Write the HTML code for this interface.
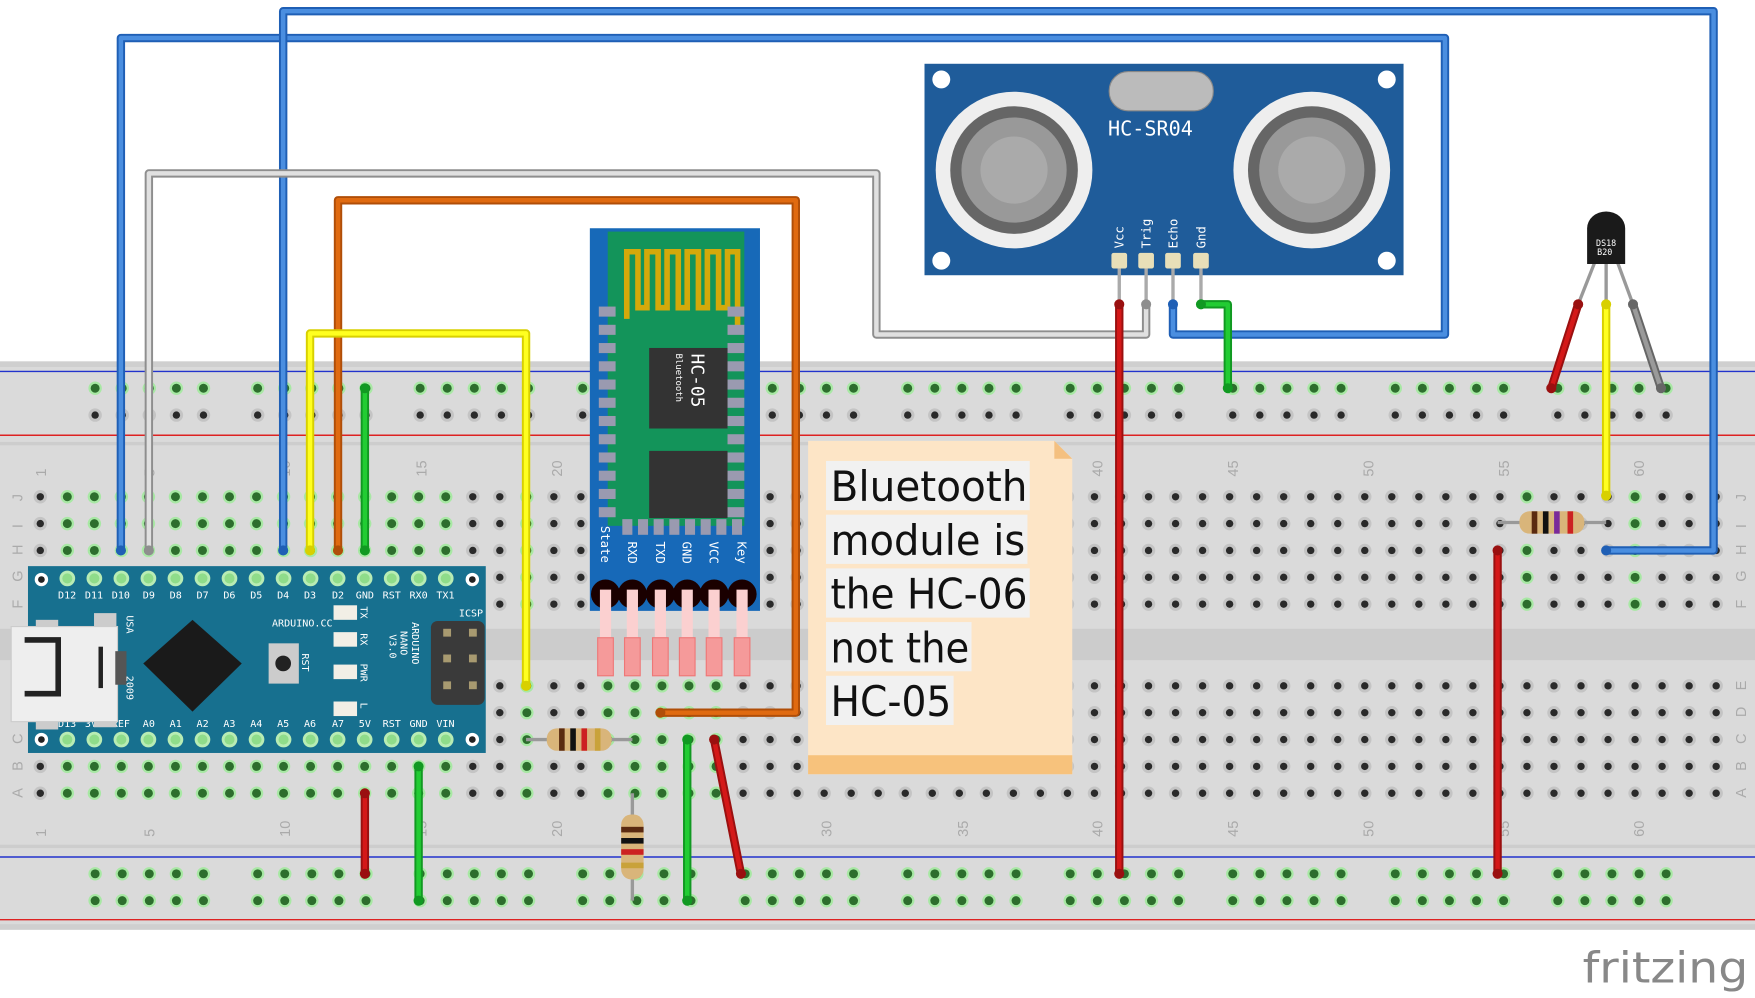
<!DOCTYPE html>
<html><head><meta charset="utf-8"><style>
html,body{margin:0;padding:0;background:#fff;width:1755px;height:998px;overflow:hidden}
svg{display:block}
.m{font-family:"DejaVu Sans Mono","Liberation Mono",monospace}
.s{font-family:"Liberation Sans",sans-serif}
.d{font-family:"DejaVu Sans","Liberation Sans",sans-serif}
</style></head><body>
<svg id="s" width="1755" height="998" viewBox="0 0 1568 892" preserveAspectRatio="none" xmlns="http://www.w3.org/2000/svg">
<rect x="0" y="0" width="1568" height="892" fill="#fff"/>
<!-- breadboard -->
<rect x="0" y="323" width="1568" height="508" fill="#dadada"/>
<rect x="0" y="323" width="1568" height="5" fill="#cfcfcf"/>
<rect x="0" y="395" width="1568" height="3" fill="#cdcdcd"/>
<rect x="0" y="562" width="1568" height="28" fill="#cccccc"/>
<rect x="0" y="755" width="1568" height="3" fill="#cdcdcd"/>
<rect x="0" y="826" width="1568" height="5" fill="#cfcfcf"/>
<line x1="0" y1="332" x2="1568" y2="332" stroke="#2233cc" stroke-width="1.3"/>
<line x1="0" y1="389" x2="1568" y2="389" stroke="#dd2222" stroke-width="1.3"/>
<line x1="0" y1="766" x2="1568" y2="766" stroke="#2233cc" stroke-width="1.3"/>
<line x1="0" y1="822" x2="1568" y2="822" stroke="#dd2222" stroke-width="1.3"/>
<g id="holes"></g>
<g fill="#aaa" font-size="13" class="s">
<text transform="translate(41,426) rotate(-90)">1</text>
<text transform="translate(138,426) rotate(-90)">5</text>
<text transform="translate(259,426) rotate(-90)">10</text>
<text transform="translate(381,426) rotate(-90)">15</text>
<text transform="translate(502,426) rotate(-90)">20</text>
<text transform="translate(743,426) rotate(-90)">30</text>
<text transform="translate(865,426) rotate(-90)">35</text>
<text transform="translate(985,426) rotate(-90)">40</text>
<text transform="translate(1106,426) rotate(-90)">45</text>
<text transform="translate(1227,426) rotate(-90)">50</text>
<text transform="translate(1348,426) rotate(-90)">55</text>
<text transform="translate(1469,426) rotate(-90)">60</text>
<text transform="translate(41,748) rotate(-90)">1</text>
<text transform="translate(138,748) rotate(-90)">5</text>
<text transform="translate(259,748) rotate(-90)">10</text>
<text transform="translate(381,748) rotate(-90)">15</text>
<text transform="translate(502,748) rotate(-90)">20</text>
<text transform="translate(743,748) rotate(-90)">30</text>
<text transform="translate(865,748) rotate(-90)">35</text>
<text transform="translate(985,748) rotate(-90)">40</text>
<text transform="translate(1106,748) rotate(-90)">45</text>
<text transform="translate(1227,748) rotate(-90)">50</text>
<text transform="translate(1348,748) rotate(-90)">55</text>
<text transform="translate(1469,748) rotate(-90)">60</text>
</g>
<g fill="#aaa" font-size="13" class="s">
<text transform="translate(20,448) rotate(-90)">J</text><text transform="translate(20,472) rotate(-90)">I</text><text transform="translate(20,496) rotate(-90)">H</text><text transform="translate(20,520) rotate(-90)">G</text><text transform="translate(20,544) rotate(-90)">F</text>
<text transform="translate(20,617) rotate(-90)">E</text><text transform="translate(20,641) rotate(-90)">D</text><text transform="translate(20,665) rotate(-90)">C</text><text transform="translate(20,689) rotate(-90)">B</text><text transform="translate(20,713) rotate(-90)">A</text>
<text transform="translate(1560,448) rotate(-90)">J</text><text transform="translate(1560,472) rotate(-90)">I</text><text transform="translate(1560,496) rotate(-90)">H</text><text transform="translate(1560,520) rotate(-90)">G</text><text transform="translate(1560,544) rotate(-90)">F</text>
<text transform="translate(1560,617) rotate(-90)">E</text><text transform="translate(1560,641) rotate(-90)">D</text><text transform="translate(1560,665) rotate(-90)">C</text><text transform="translate(1560,689) rotate(-90)">B</text><text transform="translate(1560,713) rotate(-90)">A</text>
</g>

<!-- Arduino Nano -->
<rect x="25" y="506" width="409" height="167" fill="#17708f"/>
<circle cx="37" cy="518" r="6" fill="#fff"/><circle cx="37" cy="518" r="3" fill="#222"/>
<circle cx="422" cy="518" r="6" fill="#fff"/><circle cx="422" cy="518" r="3" fill="#222"/>
<circle cx="37" cy="661" r="6" fill="#fff"/><circle cx="37" cy="661" r="3" fill="#222"/>
<circle cx="422" cy="661" r="6" fill="#fff"/><circle cx="422" cy="661" r="3" fill="#222"/>
<g id="apins"></g>
<g fill="#fff" font-size="9" class="m" text-anchor="middle">
<text x="60" y="535">D12</text><text x="84" y="535">D11</text><text x="108" y="535">D10</text><text x="133" y="535">D9</text><text x="157" y="535">D8</text><text x="181" y="535">D7</text><text x="205" y="535">D6</text><text x="229" y="535">D5</text><text x="253" y="535">D4</text><text x="277" y="535">D3</text><text x="302" y="535">D2</text><text x="326" y="535">GND</text><text x="350" y="535">RST</text><text x="374" y="535">RX0</text><text x="398" y="535">TX1</text>
<text x="60" y="650">D13</text><text x="84" y="650">3V3</text><text x="108" y="650">REF</text><text x="133" y="650">A0</text><text x="157" y="650">A1</text><text x="181" y="650">A2</text><text x="205" y="650">A3</text><text x="229" y="650">A4</text><text x="253" y="650">A5</text><text x="277" y="650">A6</text><text x="302" y="650">A7</text><text x="326" y="650">5V</text><text x="350" y="650">RST</text><text x="374" y="650">GND</text><text x="398" y="650">VIN</text>
</g>
<g fill="#fff" font-size="9" class="m">
<text x="243" y="560">ARDUINO.CC</text>
<text x="410" y="551">ICSP</text>
</g>
<rect x="32" y="554" width="20" height="98" fill="#ccc"/>
<rect x="84" y="548" width="20" height="30" fill="#ccc"/><rect x="84" y="620" width="20" height="30" fill="#ccc"/>
<rect x="10" y="560" width="95" height="85" fill="#eee" stroke="#ccc"/>
<path d="M22 572 L52 572 L52 620 L22 620" fill="none" stroke="#222" stroke-width="5"/>
<line x1="90" y1="578" x2="90" y2="615" stroke="#222" stroke-width="4"/>
<rect x="103" y="582" width="10" height="30" fill="#555"/>
<polygon points="172,554 216,593 172,636 128,593" fill="#1a1a1a"/>
<rect x="240" y="575" width="27" height="36" fill="#ccc"/><circle cx="253" cy="593" r="7" fill="#222"/>
<rect x="298" y="541" width="21" height="13" fill="#f2efe6"/>
<rect x="298" y="565" width="21" height="13" fill="#f2efe6"/>
<rect x="298" y="594" width="21" height="13" fill="#f2efe6"/>
<rect x="298" y="627" width="21" height="13" fill="#f2efe6"/>
<g fill="#fff" font-size="9" class="m">
<text transform="translate(322,542) rotate(90)">TX</text>
<text transform="translate(322,566) rotate(90)">RX</text>
<text transform="translate(322,593) rotate(90)">PWR</text>
<text transform="translate(322,628) rotate(90)">L</text>
<text transform="translate(270,584) rotate(90)">RST</text>
<text transform="translate(113,550) rotate(90)">USA</text>
<text transform="translate(113,604) rotate(90)">2009</text>
<text transform="translate(368,556) rotate(90)">ARDUINO</text>
<text transform="translate(358,564) rotate(90)">NANO</text>
<text transform="translate(348,567) rotate(90)">V3.0</text>
</g>
<rect x="385" y="555" width="48" height="75" rx="6" fill="#3a3a3a"/>
<g fill="#a89a70"><rect x="396" y="562" width="7" height="7"/><rect x="419" y="562" width="7" height="7"/><rect x="396" y="585" width="7" height="7"/><rect x="419" y="585" width="7" height="7"/><rect x="396" y="609" width="7" height="7"/><rect x="419" y="609" width="7" height="7"/></g>

<!-- Bluetooth module -->
<rect x="527" y="204" width="152" height="342" fill="#1769b8"/>
<rect x="543" y="207" width="122" height="263" fill="#13945a"/>
<path d="M560 285 V225 H570 V275 H578 V225 H588 V275 H596 V225 H606 V275 H614 V225 H624 V275 H632 V225 H642 V275 H650 V225 H659 V297" fill="none" stroke="#d4a90a" stroke-width="5"/>
<g id="btpads" fill="#9a9ab0"></g>
<rect x="580" y="311" width="70" height="72" fill="#333"/>
<rect x="580" y="403" width="70" height="60" fill="#333"/>
<text transform="translate(618,316) rotate(90)" fill="#fff" font-size="16" class="m">HC-05</text>
<text transform="translate(604,316) rotate(90)" fill="#fff" font-size="8" class="m">Bluetooth</text>
<g fill="#fff" font-size="11" class="m">
<text transform="translate(537,470) rotate(90)">State</text>
<text transform="translate(561,484) rotate(90)">RXD</text>
<text transform="translate(586,484) rotate(90)">TXD</text>
<text transform="translate(610,484) rotate(90)">GND</text>
<text transform="translate(634,484) rotate(90)">VCC</text>
<text transform="translate(659,484) rotate(90)">Key</text>
</g>
<g id="btpins"></g>

<!-- HC-SR04 -->
<rect x="826" y="57" width="428" height="189" fill="#1f5c9a"/>
<g fill="#fff"><circle cx="841" cy="71" r="8"/><circle cx="1239" cy="71" r="8"/><circle cx="841" cy="233" r="8"/><circle cx="1239" cy="233" r="8"/></g>
<rect x="991" y="64" width="93" height="35" rx="17" fill="#bbb" stroke="#888"/>
<circle cx="906" cy="152" r="70" fill="#eee"/><circle cx="906" cy="152" r="57" fill="#666"/><circle cx="906" cy="152" r="47" fill="#999"/><circle cx="906" cy="152" r="30" fill="#aaa"/>
<circle cx="1172" cy="152" r="70" fill="#eee"/><circle cx="1172" cy="152" r="57" fill="#666"/><circle cx="1172" cy="152" r="47" fill="#999"/><circle cx="1172" cy="152" r="30" fill="#aaa"/>
<text x="990" y="121" fill="#fff" font-size="18" class="m">HC-SR04</text>
<g fill="#fff" font-size="11" class="m">
<text transform="translate(1004,222) rotate(-90)">Vcc</text>
<text transform="translate(1028,222) rotate(-90)">Trig</text>
<text transform="translate(1052,222) rotate(-90)">Echo</text>
<text transform="translate(1077,222) rotate(-90)">Gnd</text>
</g>
<g fill="#e8dfb8"><rect x="993" y="226" width="14" height="14" rx="2"/><rect x="1017" y="226" width="14" height="14" rx="2"/><rect x="1041" y="226" width="14" height="14" rx="2"/><rect x="1066" y="226" width="14" height="14" rx="2"/></g>
<g stroke="#aaa" stroke-width="3"><line x1="1000" y1="240" x2="1000" y2="272"/><line x1="1024" y1="240" x2="1024" y2="272"/><line x1="1048" y1="240" x2="1048" y2="272"/><line x1="1073" y1="240" x2="1073" y2="272"/></g>

<!-- DS18B20 -->
<g stroke="#999" stroke-width="3"><line x1="1425" y1="234" x2="1410" y2="272"/><line x1="1435" y1="234" x2="1435" y2="272"/><line x1="1445" y1="234" x2="1459" y2="272"/></g>
<path d="M1418 236 V204 A17 15 0 0 1 1452 204 V236 Z" fill="#1a1a1a"/>
<text x="1426" y="220" fill="#fff" font-size="7.5" class="m">DS18</text><text x="1427" y="228" fill="#fff" font-size="7.5" class="m">B20</text>

<!-- Note -->
<path d="M722 394 H942 L958 410 V692 H722 Z" fill="#fde5c6"/>
<rect x="722" y="675" width="236" height="17" fill="#f7c27c"/>
<path d="M942 394 L942 410 L958 410 Z" fill="#f4c080"/>
<rect x="738" y="412" width="182" height="44" fill="#f1f1f1"/>
<rect x="738" y="460" width="180" height="44" fill="#f1f1f1"/>
<rect x="738" y="508" width="182" height="44" fill="#f1f1f1"/>
<rect x="738" y="556" width="130" height="44" fill="#f1f1f1"/>
<rect x="738" y="604" width="114" height="44" fill="#f1f1f1"/>
<g font-size="37" fill="#111" class="d">
<text x="742" y="448" textLength="176" lengthAdjust="spacingAndGlyphs">Bluetooth</text>
<text x="742" y="496" textLength="174" lengthAdjust="spacingAndGlyphs">module is</text>
<text x="742" y="544" textLength="176" lengthAdjust="spacingAndGlyphs">the HC-06</text>
<text x="742" y="592" textLength="124" lengthAdjust="spacingAndGlyphs">not the</text>
<text x="742" y="640" textLength="108" lengthAdjust="spacingAndGlyphs">HC-05</text>
</g>

<g id="wires"></g>
<text x="1414" y="878" fill="#888" font-size="38" class="d" textLength="148" lengthAdjust="spacingAndGlyphs">fritzing</text>
</svg>
<script>
(function(){
var NS="http://www.w3.org/2000/svg";
function el(p,t,a){var e=document.createElementNS(NS,t);for(var k in a)e.setAttribute(k,a[k]);p.appendChild(e);return e;}
var H=document.getElementById('holes');
function hole(x,y,g){
 el(H,'circle',{cx:x,cy:y,r:6,fill:g?'#a8e8a4':'#c4c4c4'});
 el(H,'circle',{cx:x,cy:y,r:g?4:3.3,fill:g?'#2d6e2d':'#2a2a2a'});
}
function cx(n){return 36+(n-1)*24.15;}
for(var k=0;k<10;k++)for(var j=0;j<5;j++){var x=85+145.2*k+j*24.2;
 hole(x,347,true);hole(x,371,false);hole(x,781,true);hole(x,805,true);}
var rowsT=[444,468,492,516,540],rowsB=[613,637,661,685,709];
var gT={},gB={};
for(var n=2;n<=16;n++){gT[n]=1;gB[n]=1;}
[19,56,60].forEach(function(n){gT[n]=1});
[19,22,23,24,25,26].forEach(function(n){gB[n]=1});
for(var n=1;n<=63;n++){var x=cx(n);if(x>1540)break;
 rowsT.forEach(function(y){hole(x,y,gT[n])});rowsB.forEach(function(y){hole(x,y,gB[n])});}
var AP=document.getElementById('apins');
for(var n=2;n<=16;n++){var x=cx(n);
 [517,661].forEach(function(y){el(AP,'circle',{cx:x,cy:y,r:7,fill:'#b8ecb4'});el(AP,'circle',{cx:x,cy:y,r:4.5,fill:'#8fdc8a'});});}
var BP=document.getElementById('btpads');
for(var i=0;i<12;i++){el(BP,'rect',{x:535,y:274+i*16.3,width:15,height:9});el(BP,'rect',{x:650,y:274+i*16.3,width:15,height:9});}
for(var i=0;i<8;i++)el(BP,'rect',{x:556+i*14,y:464,width:9,height:14});
var BT=document.getElementById('btpins');
[541,565,590,614,638,663].forEach(function(x){
 el(BT,'circle',{cx:x,cy:531,r:13,fill:'#1a0000'});
 el(BT,'rect',{x:x-5,y:527,width:10,height:76,fill:'#fbd0d0'});
 el(BT,'rect',{x:x-7,y:570,width:14,height:34,fill:'#f59a9a',stroke:'#e77','stroke-width':1});});
var W=document.getElementById('wires');
function wire(pts,c){var p=pts.map(function(a){return a.join(',')}).join(' ');
 el(W,'polyline',{points:p,fill:'none',stroke:c[1],'stroke-width':7.5,'stroke-linejoin':'round','stroke-linecap':'round'});
 el(W,'polyline',{points:p,fill:'none',stroke:c[0],'stroke-width':4,'stroke-linejoin':'round','stroke-linecap':'round'});
 [pts[0],pts[pts.length-1]].forEach(function(a){el(W,'circle',{cx:a[0],cy:a[1],r:4.5,fill:c[1]});});}
var B=['#4a8ee0','#1f5fb5'],G=['#e0e0e0','#8e8e8e'],O=['#e06a10','#b04e08'],Y=['#ffff20','#d8d000'],Gr=['#22cc33','#119922'],R=['#d41818','#9a1010'];
wire([[108,492],[108,34],[1291,34],[1291,299],[1048,299],[1048,272]],B);
wire([[253,492],[253,10],[1531,10],[1531,492],[1435,492]],B);
wire([[133,492],[133,155],[783,155],[783,299],[1024,299],[1024,272]],G);
wire([[302,492],[302,179],[711,179],[711,637],[590,637]],O);
wire([[277,492],[277,298],[470,298],[470,613]],Y);
wire([[1435,272],[1435,443]],Y);
wire([[326,347],[326,492]],Gr);
wire([[1073,272],[1097,272],[1097,347]],Gr);
wire([[374,685],[374,805]],Gr);
wire([[614,661],[614,805]],Gr);
wire([[326,709],[326,781]],R);
wire([[1000,272],[1000,781]],R);
wire([[638,661],[662,781]],R);
wire([[1338,492],[1338,781]],R);
wire([[1410,272],[1386,347]],R);
wire([[1459,272],[1484,347]],['#9a9a9a','#666']);
function res(x1,y1,x2,y2,b1,b2){
 el(W,'line',{x1:x1,y1:y1,x2:x2,y2:y2,stroke:'#999','stroke-width':3});
 var hz=y1==y2,mx=(x1+x2)/2,my=(y1+y2)/2;
 var g=el(W,'g',{transform:'translate('+mx+','+my+')'+(hz?'':' rotate(90)')});
 el(g,'rect',{x:-29,y:-10,width:58,height:20,rx:9,fill:'#d9b57a'});
 [[-18,'#5a2a10'],[-8,'#111'],[2,b1],[14,b2]].forEach(function(b){el(g,'rect',{x:b[0],y:-10,width:5,height:20,fill:b[1]});});
}
res(470,661,565,661,'#cc2222','#c9a23a');
res(565,709,565,805,'#cc2222','#c9a23a');
res(1338,467,1435,467,'#7a2a9a','#cc2222');
})();
</script>
</body></html>
